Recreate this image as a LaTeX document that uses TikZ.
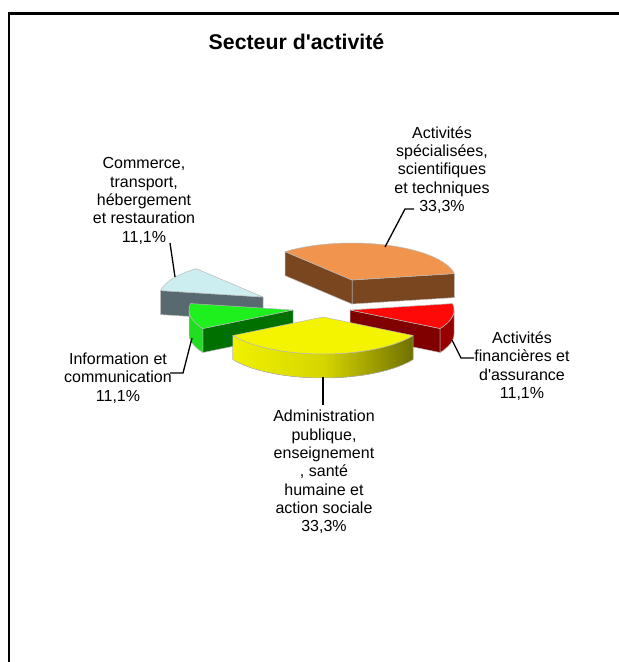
\documentclass[tikz,border=0pt]{standalone}
\usepackage{fontspec}
\setmainfont{Liberation Sans}
\definecolor{orTop}{RGB}{240,148,78}
\definecolor{orSide}{RGB}{122,70,32}
\definecolor{rdTop}{RGB}{255,8,8}
\definecolor{rdSide}{RGB}{128,0,0}
\definecolor{rdRim}{RGB}{150,0,0}
\definecolor{gnTop}{RGB}{30,240,30}
\definecolor{gnSide}{RGB}{0,112,0}
\definecolor{gnRim}{RGB}{34,222,34}
\definecolor{lbTop}{RGB}{204,238,240}
\definecolor{lbSide}{RGB}{88,106,112}
\definecolor{ywTop}{RGB}{244,244,0}
\definecolor{ywL}{RGB}{240,240,0}
\definecolor{ywM}{RGB}{214,214,0}
\definecolor{ywR}{RGB}{112,112,0}
\newcommand\pieA{104}
\newcommand\pieB{37}
\newcommand\pieH{24}
% top face: cx cy t1 t2 colour
\newcommand\pietop[5]{\filldraw[edge,fill=#5] (#1,#2) -- plot[domain=#3:#4,samples=40] ({#1+\pieA*cos(\x)},{#2-\pieB*sin(\x)}) -- cycle;}
% rim: cx cy t1 t2 style
\newcommand\pierim[5]{\filldraw[edge,#5] plot[domain=#3:#4,samples=40] ({#1+\pieA*cos(\x)},{#2-\pieB*sin(\x)}) -- plot[domain=#4:#3,samples=40] ({#1+\pieA*cos(\x)},{#2+\pieH-\pieB*sin(\x)}) -- cycle;}
% radial side: cx cy angle colour
\newcommand\pieside[4]{\filldraw[edge,fill=#4] (#1,#2) -- ({#1+\pieA*cos(#3)},{#2-\pieB*sin(#3)}) -- ({#1+\pieA*cos(#3)},{#2+\pieH-\pieB*sin(#3)}) -- ({#1},{#2+\pieH}) -- cycle;}
\tikzset{
  edge/.style={draw=gray!55,line width=0.5pt,line join=round},
  lbl/.style={font=\fontsize{16}{18.3}\selectfont,align=center,inner sep=0pt},
  leader/.style={draw=black,line width=1.3pt},
}
\begin{document}
\begin{tikzpicture}[x=1pt,y=-1pt]
\useasboundingbox (0,0) rectangle (619,662);
\fill[white] (0,0) rectangle (619,662);
\draw[line width=2.4pt] (9.2,662) -- (9.2,13.5) -- (619,13.5);

\node[font=\fontsize{21.3}{24}\selectfont\bfseries,inner sep=0pt] (title) at (296.5,42) {Secteur d\textquotesingle activité};

% orange slice (10-130)
\pieside{352}{280}{10}{orSide}
\pieside{352}{280}{130}{orSide}
\pietop{352}{280}{10}{130}{orTop}
% light blue slice (130-170)
\pieside{263}{297}{170}{lbSide}
\pietop{263}{297}{130}{170}{lbTop}
% red slice (330-370)
\pieside{350}{310}{330}{rdSide}
\pierim{350}{310}{330}{360}{fill=rdRim}
\pietop{350}{310}{330}{370}{rdTop}
% green slice (170-210)
\pieside{293}{310}{210}{gnSide}
\pierim{293}{310}{180}{210}{fill=gnRim}
\pietop{293}{310}{170}{210}{gnTop}
% yellow slice (210-330)
\pierim{323}{317}{210}{330}{left color=ywL,right color=ywR,middle color=ywM}
\pietop{323}{317}{210}{330}{ywTop}

% labels
\node[lbl] (commerce) at (144,201) {Commerce,\\transport,\\hébergement\\et restauration\\11,1\%};
\node[lbl] (info) at (118,378) {Information et\\communication\\11,1\%};
\node[lbl] (spec) at (442,170) {Activités\\spécialisées,\\scientifiques\\et techniques\\33,3\%};
\node[lbl] (fin) at (522,366) {Activités\\financières et\\d\textquotesingle assurance\\11,1\%};
\node[lbl] (admin) at (324,472) {Administration\\publique,\\enseignement\\, santé\\humaine et\\action sociale\\33,3\%};

% leader lines
\coordinate (c1a) at (170,243);
\coordinate (c1b) at (175,277);
\draw[leader] (c1a) -- (c1b);
\coordinate (c2a) at (170,373);
\coordinate (c2b) at (183,373);
\coordinate (c2c) at (192,338);
\draw[leader] (c2a) -- (c2b) -- (c2c);
\coordinate (c3a) at (414,209);
\coordinate (c3b) at (405,209);
\coordinate (c3c) at (385,247);
\draw[leader] (c3a) -- (c3b) -- (c3c);
\coordinate (c4a) at (452,340);
\coordinate (c4b) at (461,358);
\coordinate (c4c) at (474,358);
\draw[leader] (c4a) -- (c4b) -- (c4c);
\coordinate (c5a) at (323,377);
\coordinate (c5b) at (323,405);
\draw[leader] (c5a) -- (c5b);
\end{tikzpicture}
\end{document}
